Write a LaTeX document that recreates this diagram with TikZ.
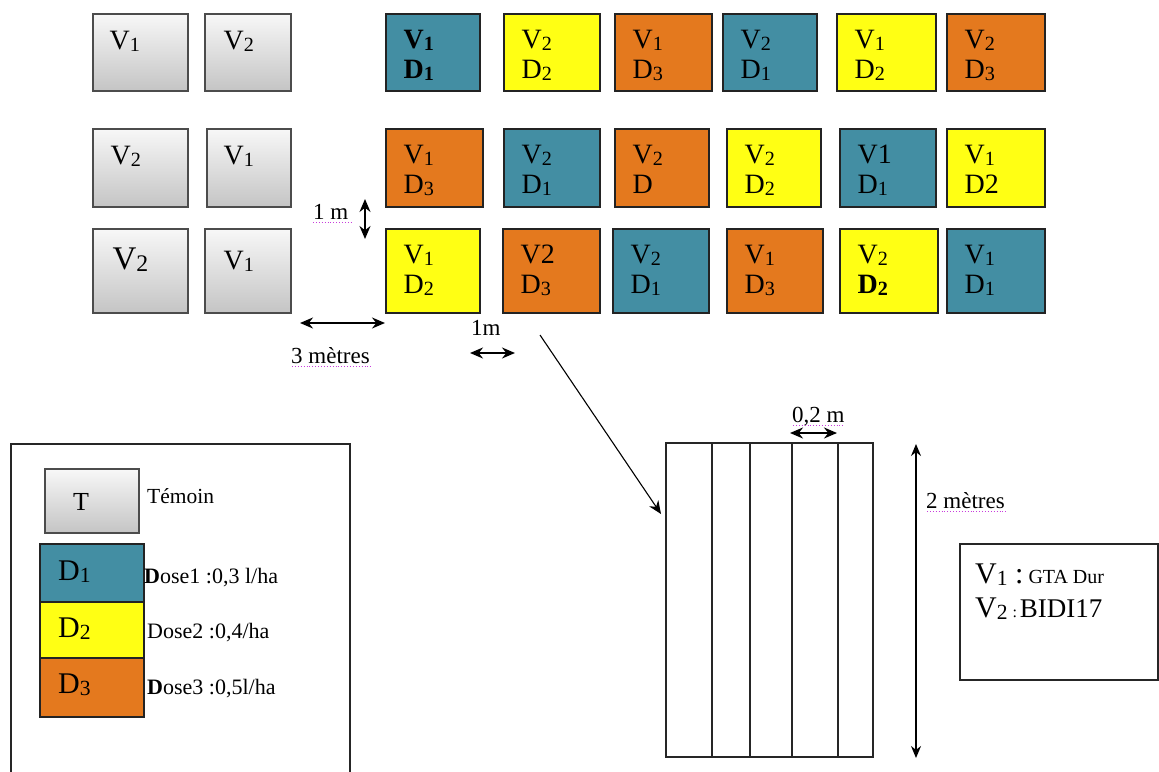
\documentclass[tikz,border=0pt]{standalone}
\usepackage{fontspec}
\usepackage{graphicx}
\setmainfont{Liberation Serif}
\usetikzlibrary{arrows.meta,fit,shadows,calc}
\definecolor{cteal}{RGB}{67,142,163}
\definecolor{cyel}{RGB}{255,255,20}
\definecolor{corg}{RGB}{228,121,30}
\definecolor{edge}{RGB}{35,35,35}
\definecolor{spell}{RGB}{200,60,220}
\newcommand\sbs[1]{\raisebox{-0.07em}{\scalebox{0.72}{#1}}}
\tikzset{
  plotbox/.style={draw=edge, line width=1.3pt, inner sep=0pt},
  greybox/.style={draw=black!70, line width=1.3pt, inner sep=0pt,
    top color=white!97!black, bottom color=black!23,
    drop shadow={opacity=0.25, shadow xshift=1.2pt, shadow yshift=-1.2pt}},
  celltxt/.style={anchor=base west, inner sep=0pt, font=\fontsize{28pt}{31pt}\selectfont},
  dimtxt/.style={anchor=base west, inner sep=0pt, font=\fontsize{23pt}{26pt}\selectfont},
  legtxt/.style={anchor=base west, inner sep=0pt, font=\fontsize{22pt}{25pt}\selectfont},
  dimarrow/.style={line width=1.6pt, arrows={Stealth[length=13pt,width=11pt]-Stealth[length=13pt,width=11pt]}},
  spellline/.style={spell, line width=0.9pt, dotted},
  frame/.style={draw=black!85, line width=1.2pt, inner sep=0pt},
}
\newcommand\plotcell[8]{%
  \node[plotbox, fill=#2, fit={(#3,#4) (#5,#6)}] (#1) {};
  \node[celltxt] (#1-a) at ($(#1.north west)+(18,35)$) {#7};
  \node[celltxt] (#1-b) at ($(#1.north west)+(18,65)$) {#8};
}
\newcommand\greycell[8]{%
  \node[greybox, fit={(#2,#3) (#4,#5)}] (#1) {};
  \node[celltxt] (#1-a) at ($(#1.north west)+(#6)$) {#7#8};
}
\begin{document}
\begin{tikzpicture}[x=1pt,y=-1pt]
\useasboundingbox (0,0) rectangle (1159,771);
\clip (0,0) rectangle (1159,771);
% controls (temoins)
\greycell{g11}{93}{14}{188}{91}{17,36}{V\sbs1}{}
\greycell{g12}{205}{14}{291}{91}{19,36}{V\sbs2}{}
\greycell{g21}{93}{129}{188}{207}{18,36}{V\sbs2}{}
\greycell{g22}{207}{129}{291}{207}{17,36}{V\sbs1}{}
\node[greybox, fit={(93,229) (188,313)}] (g31) {};
\node[celltxt, font=\fontsize{33pt}{36pt}\selectfont] (g31-a) at ($(g31.north west)+(20,41)$) {V\sbs2};
\greycell{g32}{205}{229}{291}{313}{19,41}{V\sbs1}{}
% row 1
\plotcell{r1c1}{cteal}{386}{14}{480}{91}{\bfseries V\sbs1}{\bfseries D\sbs1}
\plotcell{r1c2}{cyel}{504}{14}{600}{91}{V\sbs2}{D\sbs2}
\plotcell{r1c3}{corg}{615}{14}{712}{91}{V\sbs1}{D\sbs3}
\plotcell{r1c4}{cteal}{723}{14}{817}{91}{V\sbs2}{D\sbs1}
\plotcell{r1c5}{cyel}{837}{14}{936}{91}{V\sbs1}{D\sbs2}
\plotcell{r1c6}{corg}{947}{14}{1045}{91}{V\sbs2}{D\sbs3}
% row 2
\plotcell{r2c1}{corg}{386}{129}{483}{207}{V\sbs1}{D\sbs3}
\plotcell{r2c2}{cteal}{504}{129}{600}{207}{V\sbs2}{D\sbs1}
\plotcell{r2c3}{corg}{615}{129}{709}{207}{V\sbs2}{D}
\plotcell{r2c4}{cyel}{727}{129}{821}{207}{V\sbs2}{D\sbs2}
\plotcell{r2c5}{cteal}{840}{129}{936}{207}{V1}{D\sbs1}
\plotcell{r2c6}{cyel}{947}{129}{1045}{207}{V\sbs1}{D2}
% row 3
\plotcell{r3c1}{cyel}{386}{229}{480}{313}{V\sbs1}{D\sbs2}
\plotcell{r3c2}{corg}{503}{229}{600}{313}{V2}{D\sbs3}
\plotcell{r3c3}{cteal}{613}{229}{709}{313}{V\sbs2}{D\sbs1}
\plotcell{r3c4}{corg}{727}{229}{823}{313}{V\sbs1}{D\sbs3}
\plotcell{r3c5}{cyel}{840}{229}{938}{313}{V\sbs2}{\bfseries D\sbs2}
\plotcell{r3c6}{cteal}{947}{229}{1045}{313}{V\sbs1}{D\sbs1}
% dimension: 1 m (vertical)
\node[dimtxt] (l1m) at (313,219) {1 m};
\draw[spellline] (313,222) -- (351,222);
\coordinate (v1a) at (365,199);
\coordinate (v1b) at (365,239);
\draw[dimarrow] (v1a) -- (v1b);
% dimension: 3 metres
\coordinate (h3a) at (300,323);
\coordinate (h3b) at (385,323);
\draw[dimarrow] (h3a) -- (h3b);
\node[dimtxt] (l3m) at (291,363) {3 mètres};
\draw[spellline] (292,366) -- (372,366);
% dimension: 1m
\node[dimtxt] (l1mb) at (471,335) {1m};
\coordinate (h1a) at (470,353);
\coordinate (h1b) at (515,353);
\draw[dimarrow] (h1a) -- (h1b);
% strip plot
\node[frame, fit={(666,443) (873,757)}] (strip) {};
\foreach \xx in {712,750,792,838}
  \draw[line width=1.2pt, black!85] (\xx,0 |- strip.north) -- (\xx,0 |- strip.south);
% pointer arrow
\coordinate (ptrA) at (540,335);
\coordinate (ptrB) at (661,514);
\draw[line width=1.1pt, -{Stealth[length=13pt,width=11pt]}] (ptrA) -- (ptrB);
% 0,2 m
\node[dimtxt] (l02) at (792,422) {0,2 m};
\draw[spellline] (793,425) -- (845,425);
\coordinate (h02a) at (790,433);
\coordinate (h02b) at (837,433);
\draw[dimarrow] (h02a) -- (h02b);
% 2 metres
\coordinate (v2a) at (916,444);
\coordinate (v2b) at (916,758);
\draw[line width=1.3pt, arrows={Stealth[length=12pt,width=10pt]-Stealth[length=12pt,width=10pt]}] (v2a) -- (v2b);
\node[dimtxt] (l2m) at (926,508) {2 mètres};
\draw[spellline] (927,511) -- (1007,511);
% left legend
\node[frame, fit={(11,444) (350,800)}] (legL) {};
\node[greybox, fit={(45,469) (139,533)}] (legT) {};
\node[celltxt, font=\fontsize{26pt}{28pt}\selectfont] (legT-a) at (73,510) {T};
\node[legtxt, font=\fontsize{21.5pt}{24pt}\selectfont] (tem) at (147,503) {Témoin};
\node[plotbox, fill=cteal, fit={(40,544) (144,602)}] (legD1) {};
\node[plotbox, fill=cyel, fit={(40,602) (144,658)}] (legD2) {};
\node[plotbox, fill=corg, fit={(40,658) (144,717)}] (legD3) {};
\node[celltxt, font=\fontsize{30pt}{32pt}\selectfont] (legD1-a) at (58,580) {D\sbs1};
\node[celltxt, font=\fontsize{30pt}{32pt}\selectfont] (legD2-a) at (58,637) {D\sbs2};
\node[celltxt, font=\fontsize{30pt}{32pt}\selectfont] (legD3-a) at (58,693) {D\sbs3};
\node[legtxt] (dose1) at (144,583) {\textbf{D}ose1 :0,3 l/ha};
\node[legtxt] (dose2) at (147,638) {Dose2 :0,4/ha};
\node[legtxt] (dose3) at (147,694) {\textbf{D}ose3 :0,5l/ha};
% right legend
\node[frame, fit={(960,544) (1158,680)}] (legR) {};
\node[anchor=base west, inner sep=0pt] (var1) at (975,583)
  {\fontsize{30pt}{32pt}\selectfont V\sbs1 :\,\fontsize{20pt}{22pt}\selectfont GTA Dur};
\node[anchor=base west, inner sep=0pt] (var2) at (975,617)
  {\fontsize{30pt}{32pt}\selectfont V\sbs2\,\fontsize{16pt}{18pt}\selectfont:\,\fontsize{27pt}{30pt}\selectfont BIDI17};
\end{tikzpicture}
\end{document}
